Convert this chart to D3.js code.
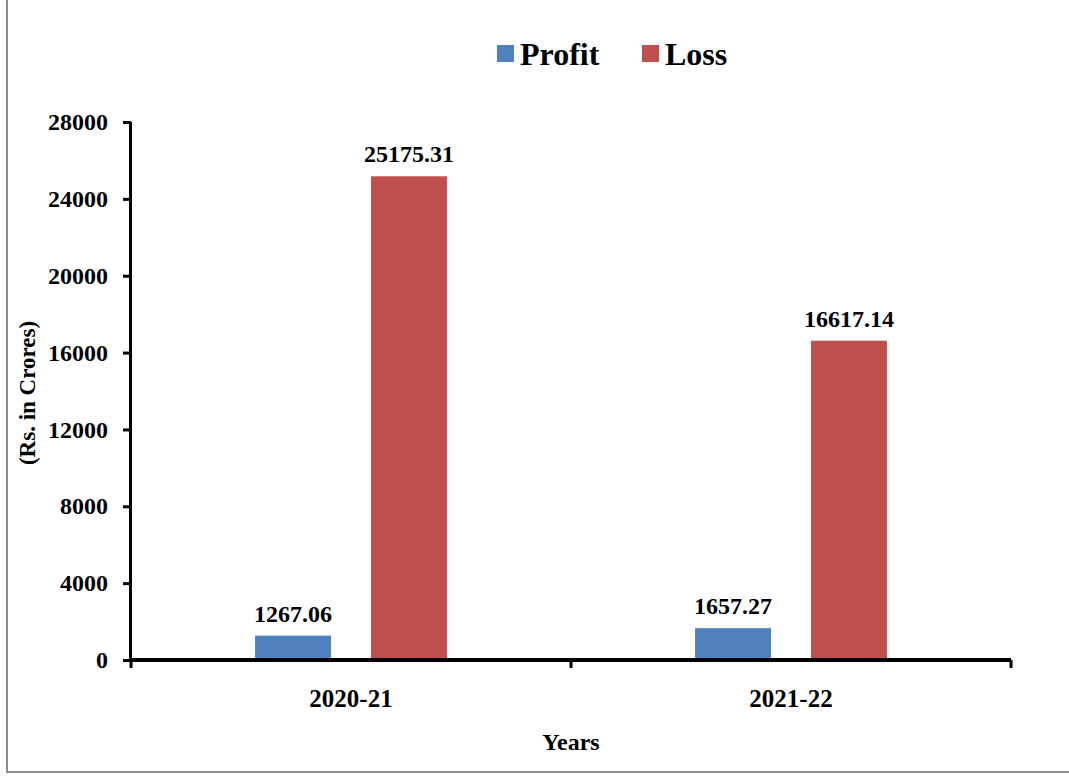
<!DOCTYPE html>
<html>
<head>
<meta charset="utf-8">
<script src="https://cdn.jsdelivr.net/npm/d3@7"></script>
<style>
  html, body { margin: 0; padding: 0; background: #fff; }
  svg text { font-family: "Liberation Serif", "Times New Roman", serif; font-weight: bold; fill: #000; }
</style>
</head>
<body>
<div id="chart"></div>
<script>
// data
const years   = ["2020-21", "2021-22"];
const series  = ["Profit", "Loss"];
const profit  = [1267.06, 1657.27];
const loss    = [25175.31, 16617.14];
const yTicks  = [0, 4000, 8000, 12000, 16000, 20000, 24000, 28000];
const colors  = ["#4f81bd", "#c0504d"];

const W = 1069, H = 776;
const margin = { top: 122, right: 58, bottom: 116, left: 131 };

const svg = d3.select("#chart").append("svg")
  .attr("width", W).attr("height", H);

// frame (only left + bottom visible)
svg.append("path")
  .attr("d", `M7,0 V772 H1069`)
  .attr("fill", "none").attr("stroke", "#8c8c8c").attr("stroke-width", 2);

const x0 = d3.scaleBand()
  .domain(years)
  .range([margin.left, W - margin.right])
  .padding(0);

const x1 = d3.scaleBand()
  .domain(series)
  .range([0, x0.bandwidth()])
  .paddingInner(0.345)
  .paddingOuter(1.07);

const y = d3.scaleLinear()
  .domain([0, 28000])
  .range([H - margin.bottom, margin.top]);

const rows = years.map((yr, i) => ({ year: yr, vals: [profit[i], loss[i]] }));

// bars
const g = svg.append("g").selectAll("g")
  .data(rows).join("g")
    .attr("transform", d => `translate(${x0(d.year)},0)`);

g.selectAll("rect")
  .data(d => d.vals.map((v, k) => ({ key: series[k], v, k })))
  .join("rect")
    .attr("x", d => x1(d.key))
    .attr("y", d => y(d.v))
    .attr("width", x1.bandwidth())
    .attr("height", d => y(0) - y(d.v))
    .attr("fill", d => colors[d.k]);

g.selectAll("text.lbl")
  .data(d => d.vals.map((v, k) => ({ key: series[k], v, k })))
  .join("text")
    .attr("class", "lbl")
    .attr("x", d => x1(d.key) + x1.bandwidth() / 2)
    .attr("y", d => y(d.v) - 14)
    .attr("text-anchor", "middle")
    .attr("font-size", 24)
    .text(d => d.v.toFixed(2));

// axis Y
svg.append("g")
  .attr("transform", `translate(${margin.left},0)`)
  .call(d3.axisLeft(y).tickValues(yTicks).tickSize(8).tickPadding(15).tickFormat(d3.format("d")))
  .call(g => g.select(".domain").attr("stroke-width", 3).attr("d", `M-0.5,${y(28000)}V${y(0)}`))
  .call(g => g.selectAll(".tick line").attr("stroke-width", 3).attr("x2", -8))
  .call(g => g.selectAll(".tick text").attr("font-size", 24));

// axis X: line with ticks at band boundaries
const xBounds = [x0.range()[0], ...years.slice(1).map(d => x0(d)), x0.range()[1]];
const gx = svg.append("g");
gx.append("line")
  .attr("x1", x0.range()[0]).attr("x2", x0.range()[1])
  .attr("y1", y(0)).attr("y2", y(0))
  .attr("stroke", "#000").attr("stroke-width", 4);
gx.selectAll("line.t").data(xBounds).join("line")
  .attr("class", "t")
  .attr("x1", d => d).attr("x2", d => d)
  .attr("y1", y(0)).attr("y2", y(0) + 8)
  .attr("stroke", "#000").attr("stroke-width", 3);
gx.selectAll("text").data(years).join("text")
  .attr("x", d => x0(d) + x0.bandwidth() / 2)
  .attr("y", y(0) + 47)
  .attr("text-anchor", "middle")
  .attr("font-size", 25)
  .text(d => d);

// axis titles
svg.append("text")
  .attr("transform", `translate(35,393) rotate(-90)`)
  .attr("text-anchor", "middle")
  .attr("font-size", 23)
  .text("(Rs. in Crores)");

svg.append("text")
  .attr("x", 571).attr("y", 750)
  .attr("text-anchor", "middle")
  .attr("font-size", 24)
  .text("Years");

// legend
const legendX = [497, 642];
const lg = svg.append("g").selectAll("g")
  .data(series).join("g")
    .attr("transform", (d, i) => `translate(${legendX[i]},45)`);
lg.append("rect").attr("width", 17).attr("height", 17).attr("fill", (d, i) => colors[i]);
lg.append("text").attr("x", 23).attr("y", 20).attr("font-size", 32).text(d => d);
</script>
</body>
</html>
